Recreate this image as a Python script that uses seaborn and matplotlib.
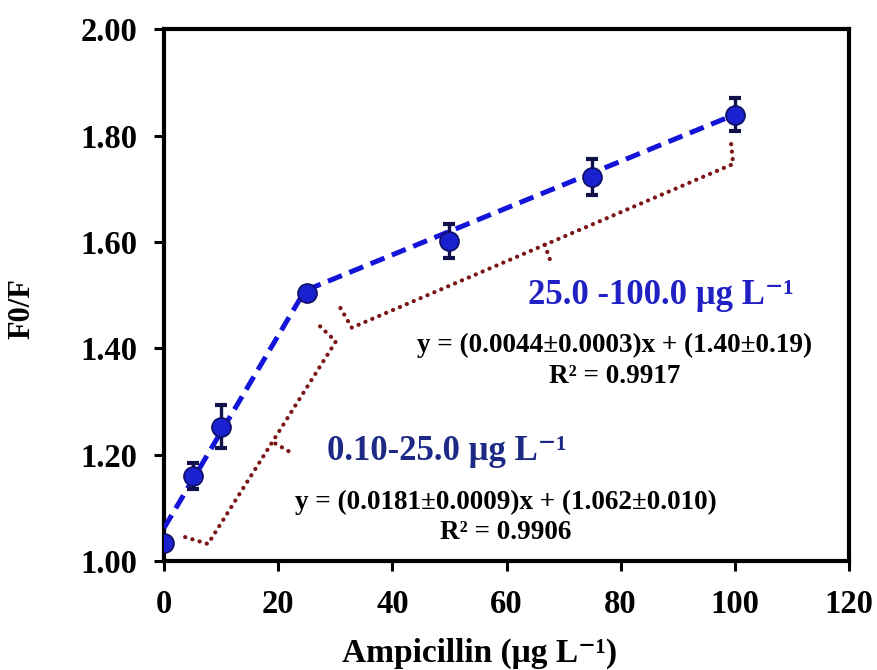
import numpy as np
import pandas as pd
import matplotlib
matplotlib.use("Agg")
import matplotlib.pyplot as plt
import seaborn as sns

# ---- data ----
conc = [0, 5, 10, 25, 50, 75, 100]
ratio = [1.034, 1.160, 1.253, 1.505, 1.602, 1.723, 1.840]
err = [0.008, 0.024, 0.040, 0.010, 0.032, 0.034, 0.031]

fit1_range = [0, 25]
fit1_slope, fit1_icpt = 0.0181, 1.062
fit2_range = [25, 100]
fit2_slope, fit2_icpt = 0.0044, 1.40

bracket1_x = [3.7, 7.7, 30.1, 26.9]
bracket1_y = [1.045, 1.032, 1.413, 1.446]
tick1_x = [19.5, 22.4]
tick1_y = [1.221, 1.203]

bracket2_x = [30.9, 32.9, 99.7, 99.25]
bracket2_y = [1.476, 1.439, 1.747, 1.796]
tick2_x = [66.7, 67.9]
tick2_y = [1.595, 1.558]

x_ticks = [0, 20, 40, 60, 80, 100, 120]
y_ticks = [1.00, 1.20, 1.40, 1.60, 1.80, 2.00]

label_hi = "25.0 -100.0 μg L⁻¹"
eq_hi = "y = (0.0044±0.0003)x + (1.40±0.19)"
r2_hi = "R² = 0.9917"
label_lo = "0.10-25.0 μg L⁻¹"
eq_lo = "y = (0.0181±0.0009)x + (1.062±0.010)"
r2_lo = "R² = 0.9906"
x_title = "Ampicillin (μg L⁻¹)"
y_title = "F0/F"

# ---- style ----
sns.set_theme(style="white")
plt.rcParams["font.family"] = ["Liberation Serif", "DejaVu Serif"]
plt.rcParams["font.weight"] = "bold"

fig = plt.figure(figsize=(8.78, 6.70), dpi=100)
ax = fig.add_axes([0.1868, 0.1627, 0.7802, 0.7933])

df = pd.DataFrame({"conc": conc, "ratio": ratio, "err": err})

# fitted lines
for rng, s, b in [(fit1_range, fit1_slope, fit1_icpt), (fit2_range, fit2_slope, fit2_icpt)]:
    xs = np.array(rng, dtype=float)
    sns.lineplot(x=xs, y=s * xs + b, ax=ax, color="#1414d8", lw=3.6,
                 linestyle=(0, (3.0, 1.6)), zorder=3)

# brackets
dot_kw = dict(color="#7a1416", lw=3.0, linestyle=(0, (0.05, 1.75)),
              dash_capstyle="round", solid_capstyle="round", zorder=2)
for bx, by in [(bracket1_x, bracket1_y), (tick1_x, tick1_y),
               (bracket2_x, bracket2_y), (tick2_x, tick2_y)]:
    l, = ax.plot(bx, by, **dot_kw)
    l.set_dash_capstyle("round")

# error bars
ax.errorbar(df["conc"], df["ratio"], yerr=df["err"], fmt="none",
            ecolor="#10104a", elinewidth=2.4, capsize=4, capthick=3, zorder=4)
# points
sns.scatterplot(data=df, x="conc", y="ratio", ax=ax, s=185, color="#1a22d0",
                edgecolor="#10106a", linewidth=1.3, zorder=5, legend=False)

# annotations (baseline anchored)
ax.text(87.0, 1.483, label_hi, color="#2020c4", fontsize=25,
        fontweight="bold", ha="center", va="baseline")
ax.text(78.9, 1.394, eq_hi, color="black", fontsize=19.5,
        fontweight="bold", ha="center", va="baseline")
ax.text(78.9, 1.335, r2_hi, color="black", fontsize=19.5,
        fontweight="bold", ha="center", va="baseline")
ax.text(49.6, 1.190, label_lo, color="#1c2a86", fontsize=25,
        fontweight="bold", ha="center", va="baseline")
ax.text(59.9, 1.098, eq_lo, color="black", fontsize=19.5,
        fontweight="bold", ha="center", va="baseline")
ax.text(59.8, 1.041, r2_lo, color="black", fontsize=19.5,
        fontweight="bold", ha="center", va="baseline")

# axes
ax.set_xlim(0, 120)
ax.set_ylim(1.0, 2.0)
ax.set_xticks(x_ticks)
ax.set_yticks(y_ticks)
ax.set_xticklabels([str(t) for t in x_ticks])
ax.set_yticklabels([f"{t:.2f}" for t in y_ticks])
ax.tick_params(axis="both", which="major", direction="out", length=7.2, width=2.2,
               labelsize=23.5, color="black", labelcolor="black",
               bottom=True, left=True, top=False, right=False)
ax.tick_params(axis="x", pad=13)
ax.tick_params(axis="y", pad=12)
for lab in ax.get_xticklabels() + ax.get_yticklabels():
    lab.set_fontweight("bold")
for sp in ax.spines.values():
    sp.set_visible(True)
    sp.set_color("black")
    sp.set_linewidth(3.0)

ax.set_xlabel(x_title, fontsize=24, fontweight="bold", color="black")
ax.set_ylabel(y_title, fontsize=22, fontweight="bold", color="black")
ax.xaxis.set_label_coords(0.46, -0.19)
ax.xaxis.label.set_verticalalignment("baseline")
ax.yaxis.set_label_coords(-0.186, 0.474)
ax.grid(False)
ax.set_facecolor("white")
fig.patch.set_facecolor("white")

fig.savefig("out.png", dpi=100)
